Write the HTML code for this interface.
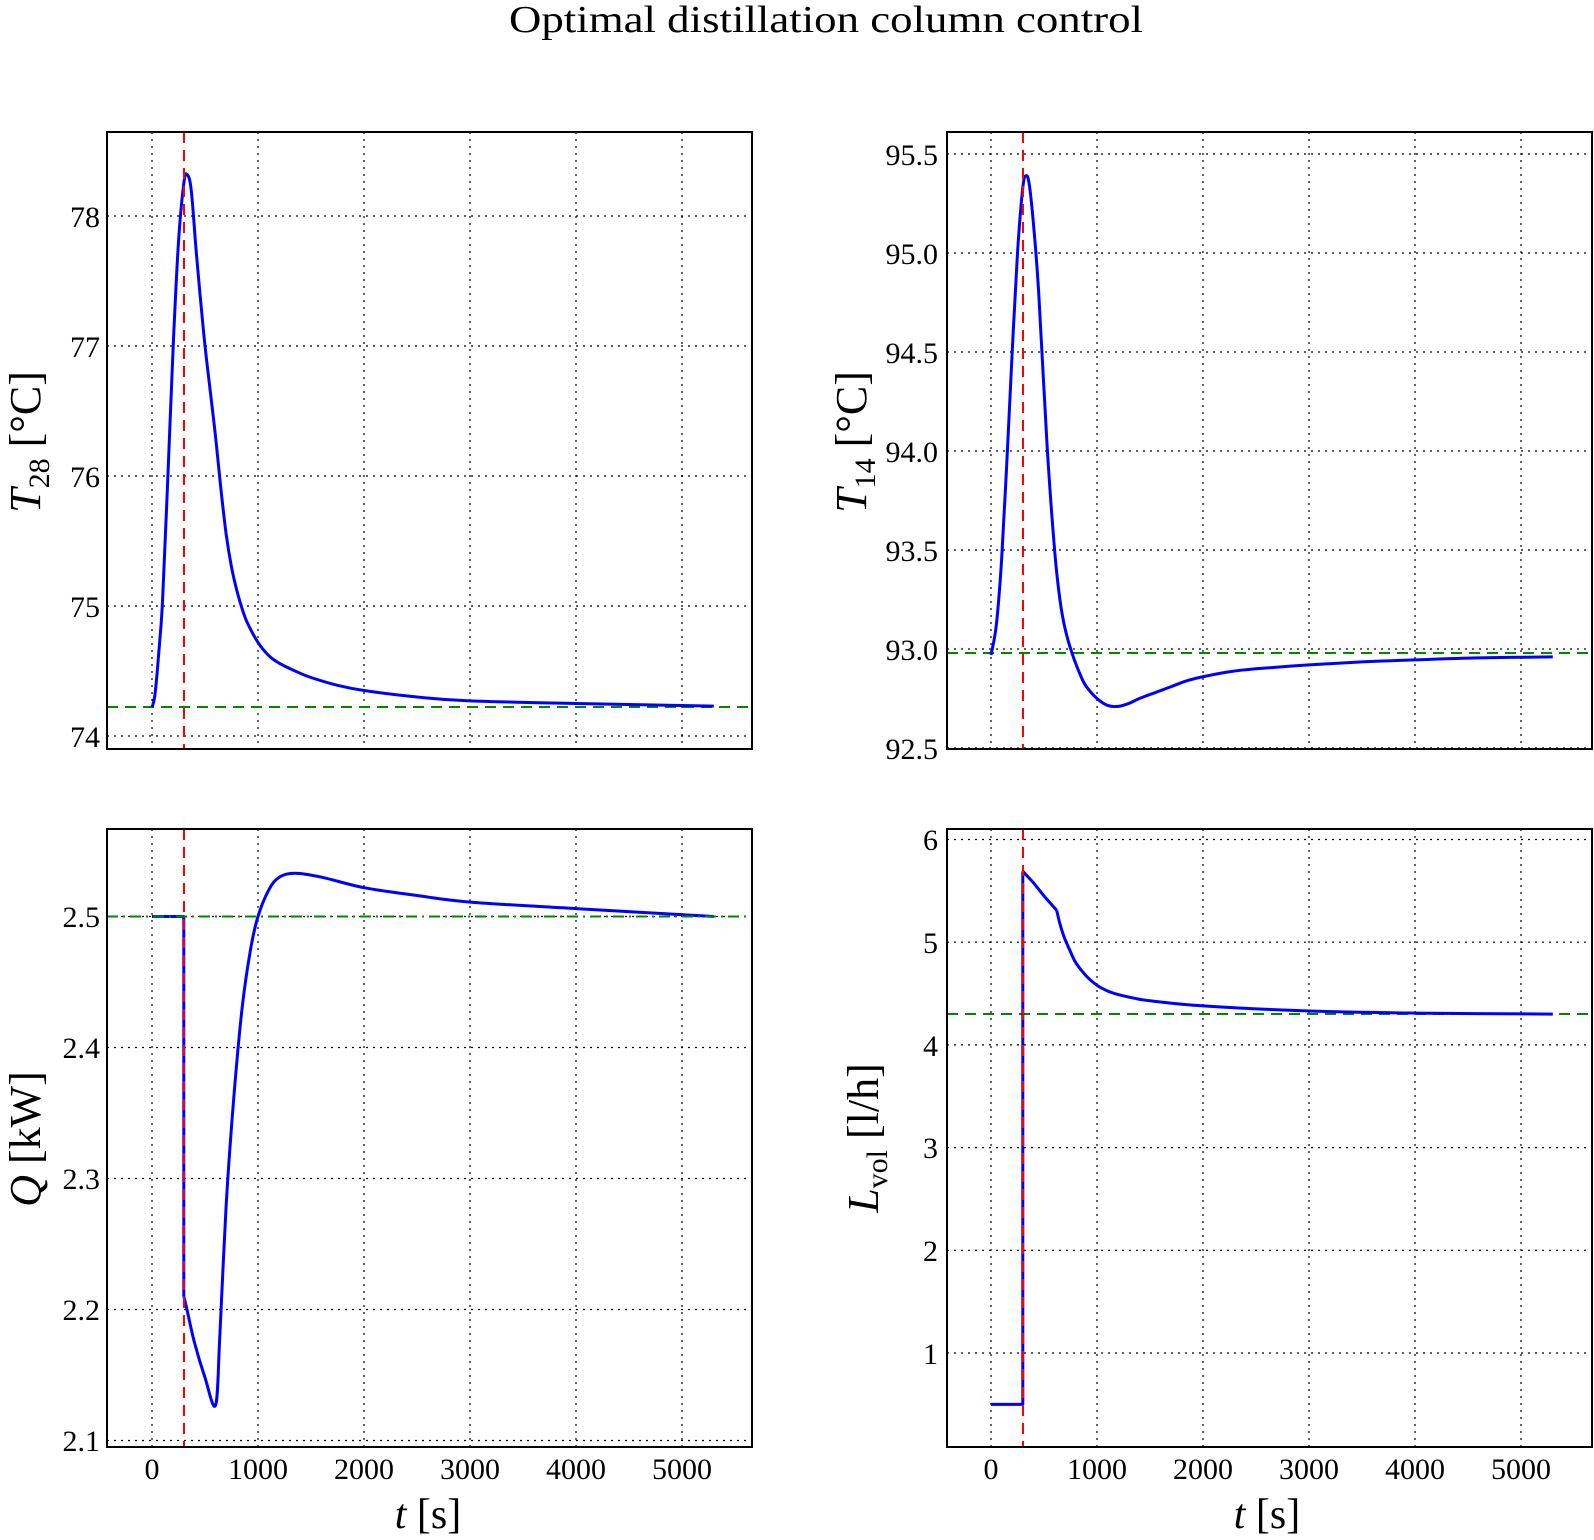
<!DOCTYPE html>
<html><head><meta charset="utf-8"><style>
html,body{margin:0;padding:0;background:#fff}
svg{display:block}
text{font-family:"Liberation Serif","DejaVu Serif",serif;fill:#000}
.tk{font-size:30px}
.grid{stroke:#000;stroke-width:1.2;stroke-dasharray:2,5;fill:none}
.ax{stroke:#000;stroke-width:2;fill:none}
.red{stroke:#f00;stroke-width:2;stroke-dasharray:11,7;fill:none}
.grn{stroke:#080;stroke-width:2;stroke-dasharray:11,7;fill:none}
.blu{stroke:#00f;stroke-width:3;fill:none;vector-effect:non-scaling-stroke;stroke-linejoin:round}
</style></head><body>
<svg width="1594" height="1540" viewBox="0 0 1594 1540" xmlns="http://www.w3.org/2000/svg">
<text x="826" y="32" font-size="38" text-anchor="middle" textLength="634" lengthAdjust="spacingAndGlyphs">Optimal distillation column control</text>

<!-- ===== Top-left ===== -->
<g>
<path class="grid" d="M152,132V749M258,132V749M364,132V749M470,132V749M576,132V749M682,132V749"/>
<path class="grid" d="M107,736H752M107,606H752M107,476H752M107,346H752M107,216H752"/>
<g class="tk" text-anchor="end">
<text x="100" y="747">74</text><text x="100" y="617">75</text><text x="100" y="487">76</text><text x="100" y="357">77</text><text x="100" y="227">78</text>
</g>
<line class="grn" x1="107" y1="707" x2="752" y2="707"/>
<g transform="translate(152,736) scale(0.106,-130) translate(0,-74)">
<polyline class="blu sm" points="0,74.22 25,74.3 50,74.5 75,74.75 100,75.05 150,76 200,77 250,77.8 300,78.25 330,78.32 370,78.2 420,77.7 490,77.08 550,76.65 600,76.3 650,75.9 700,75.55 750,75.3 800,75.12 850,74.98 900,74.87 1000,74.72 1100,74.62 1200,74.56 1350,74.5 1500,74.45 1750,74.39 2000,74.35 2500,74.3 3000,74.27 4000,74.25 5300,74.23"/>
</g>
<line class="red" x1="184" y1="132" x2="184" y2="749"/>
<rect class="ax" x="107" y="132" width="645" height="617"/>
<text transform="translate(40,442) rotate(-90)" font-size="44" text-anchor="middle"><tspan font-style="italic">T</tspan><tspan font-size="30" dy="9">28</tspan><tspan dy="-9"> [°C]</tspan></text>
</g>

<!-- ===== Top-right ===== -->
<g>
<path class="grid" d="M991,132V749M1097,132V749M1203,132V749M1309,132V749M1415,132V749M1521,132V749"/>
<path class="grid" d="M947,748H1592M947,649H1592M947,550H1592M947,451H1592M947,352H1592M947,253H1592M947,154H1592"/>
<g class="tk" text-anchor="end">
<text x="938" y="759">92.5</text><text x="938" y="660">93.0</text><text x="938" y="561">93.5</text><text x="938" y="462">94.0</text><text x="938" y="363">94.5</text><text x="938" y="264">95.0</text><text x="938" y="165">95.5</text>
</g>
<line class="grn" x1="947" y1="653" x2="1592" y2="653"/>
<g transform="translate(991,748) scale(0.106,-198) translate(0,-92.5)">
<polyline class="blu sm" points="0,92.97 50,93.12 100,93.45 150,93.95 200,94.5 250,95 300,95.33 330,95.39 360,95.35 400,95.15 450,94.8 530,94.02 600,93.5 650,93.25 700,93.1 770,92.97 850,92.86 900,92.81 1000,92.75 1100,92.715 1200,92.71 1300,92.725 1400,92.75 1550,92.78 1700,92.81 1850,92.84 2000,92.86 2250,92.885 2500,92.9 3000,92.92 3500,92.935 4000,92.945 4600,92.955 5300,92.96"/>
</g>
<line class="red" x1="1023" y1="132" x2="1023" y2="749"/>
<rect class="ax" x="947" y="132" width="645" height="617"/>
<text transform="translate(866,442) rotate(-90)" font-size="44" text-anchor="middle"><tspan font-style="italic">T</tspan><tspan font-size="30" dy="9">14</tspan><tspan dy="-9"> [°C]</tspan></text>
</g>

<!-- ===== Bottom-left ===== -->
<g>
<path class="grid" d="M152,829V1447M258,829V1447M364,829V1447M470,829V1447M576,829V1447M682,829V1447"/>
<path class="grid" d="M107,1440.5H752M107,1309.5H752M107,1178.5H752M107,1047.5H752M107,916.5H752"/>
<g class="tk" text-anchor="end">
<text x="100" y="1451">2.1</text><text x="100" y="1320">2.2</text><text x="100" y="1189">2.3</text><text x="100" y="1058">2.4</text><text x="100" y="927">2.5</text>
</g>
<g class="tk" text-anchor="middle">
<text x="152" y="1479">0</text><text x="258" y="1479">1000</text><text x="364" y="1479">2000</text><text x="470" y="1479">3000</text><text x="576" y="1479">4000</text><text x="682" y="1479">5000</text>
</g>
<g transform="translate(152,1440.5) scale(0.106,-1310) translate(0,-2.1)">
<polyline class="blu" points="0,2.5 300,2.5 300,2.21"/>
<polyline class="blu sm" points="300,2.21 330,2.2 400,2.175 500,2.148 600,2.127 640,2.18 700,2.28 770,2.36 850,2.43 930,2.475 1000,2.5 1100,2.52 1200,2.53 1350,2.533 1600,2.53 2000,2.522 2500,2.516 3000,2.511 4000,2.506 5300,2.5"/>
</g>
<line class="grn" x1="107" y1="916.5" x2="752" y2="916.5" style="stroke-dasharray:11,5,2,5"/>
<line class="red" x1="184" y1="829" x2="184" y2="1447"/>
<rect class="ax" x="107" y="829" width="645" height="618"/>
<text transform="translate(40,1139) rotate(-90)" font-size="44" text-anchor="middle"><tspan font-style="italic">Q</tspan> [kW]</text>
<text x="428" y="1528" font-size="42" text-anchor="middle"><tspan font-style="italic">t</tspan>  [s]</text>
</g>

<!-- ===== Bottom-right ===== -->
<g>
<path class="grid" d="M991,829V1447M1097,829V1447M1203,829V1447M1309,829V1447M1415,829V1447M1521,829V1447"/>
<path class="grid" d="M947,1353H1592M947,1250.3H1592M947,1147.6H1592M947,1044.9H1592M947,942.2H1592M947,839.5H1592"/>
<g class="tk" text-anchor="end">
<text x="938" y="1364">1</text><text x="938" y="1261">2</text><text x="938" y="1158">3</text><text x="938" y="1056">4</text><text x="938" y="953">5</text><text x="938" y="850">6</text>
</g>
<g class="tk" text-anchor="middle">
<text x="991" y="1479">0</text><text x="1097" y="1479">1000</text><text x="1203" y="1479">2000</text><text x="1309" y="1479">3000</text><text x="1415" y="1479">4000</text><text x="1521" y="1479">5000</text>
</g>
<line class="grn" x1="947" y1="1014" x2="1592" y2="1014"/>
<g transform="translate(991,1353) scale(0.106,-102.7) translate(0,-1)">
<polyline class="blu" points="0,0.5 300,0.5 300,5.69"/>
<polyline class="blu" points="300,5.69 400,5.58 500,5.45 620,5.31"/>
<polyline class="blu sm" points="620,5.31 650,5.18 690,5.05 740,4.93 800,4.8 900,4.67 1000,4.58 1100,4.525 1200,4.49 1350,4.455 1500,4.43 2000,4.38 3000,4.33 4000,4.31 5300,4.3"/>
</g>
<line class="red" x1="1023" y1="829" x2="1023" y2="1447"/>
<rect class="ax" x="947" y="829" width="645" height="618"/>
<text transform="translate(878,1138) rotate(-90)" font-size="44" text-anchor="middle"><tspan font-style="italic">L</tspan><tspan font-size="30" dy="9">vol</tspan><tspan dy="-9"> [l/h]</tspan></text>
<text x="1267" y="1528" font-size="42" text-anchor="middle"><tspan font-style="italic">t</tspan>  [s]</text>
</g>
</svg>
<script>
document.querySelectorAll('polyline.sm').forEach(function(pl){
  var p=pl.getAttribute('points').trim().split(/\s+/).map(function(s){return s.split(',').map(Number);});
  var d='M'+p[0][0]+','+p[0][1];
  for(var i=0;i<p.length-1;i++){
    var p0=p[i-1]||p[i],p1=p[i],p2=p[i+1],p3=p[i+2]||p[i+1];
    var c1x=p1[0]+(p2[0]-p0[0])/6,c1y=p1[1]+(p2[1]-p0[1])/6;
    var c2x=p2[0]-(p3[0]-p1[0])/6,c2y=p2[1]-(p3[1]-p1[1])/6;
    d+='C'+c1x+','+c1y+' '+c2x+','+c2y+' '+p2[0]+','+p2[1];
  }
  var path=document.createElementNS('http://www.w3.org/2000/svg','path');
  path.setAttribute('d',d);path.setAttribute('class','blu');
  pl.parentNode.replaceChild(path,pl);
});
</script>
</body></html>
